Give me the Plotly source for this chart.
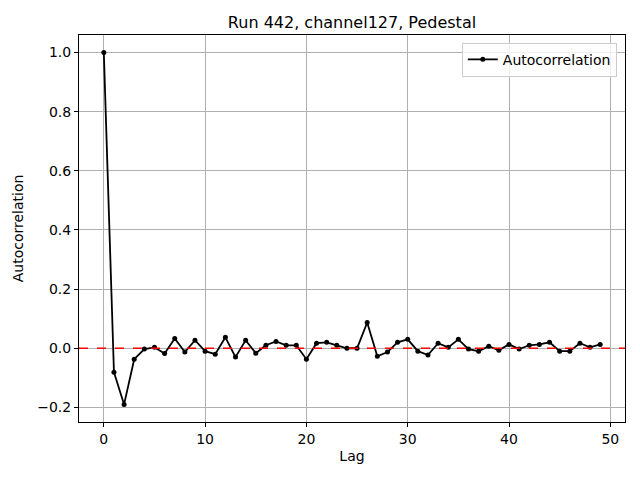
import plotly.graph_objects as go

lags = list(range(50))
autocorr = [1.0, -0.081, -0.19, -0.037, -0.003, 0.003, -0.018, 0.033, -0.013, 0.027,
            -0.01, -0.02, 0.037, -0.03, 0.027, -0.017, 0.01, 0.023, 0.01, 0.01,
            -0.037, 0.017, 0.02, 0.01, 0.0, 0.0, 0.087, -0.027, -0.013, 0.02,
            0.03, -0.01, -0.023, 0.017, 0.003, 0.03, -0.003, -0.01, 0.007, -0.007,
            0.013, -0.003, 0.01, 0.013, 0.02, -0.01, -0.01, 0.017, 0.003, 0.013]
x_ticks = [0, 10, 20, 30, 40, 50]
y_ticks = [-0.2, 0.0, 0.2, 0.4, 0.6, 0.8, 1.0]

fig = go.Figure()
fig.add_trace(go.Scatter(x=lags, y=autocorr, mode="lines+markers", name="Autocorrelation",
                         line=dict(color="black", width=1.8),
                         marker=dict(color="black", size=5)))
fig.add_hline(y=0, line=dict(color="red", width=1.6, dash="dash"))

font = "DejaVu Sans, sans-serif"
axis_common = dict(showgrid=True, gridcolor="#b0b0b0", gridwidth=1, showline=True,
                   linecolor="black", linewidth=1, mirror=True, ticks="outside",
                   ticklen=4, tickcolor="black", zeroline=False, automargin=False,
                   tickfont=dict(family=font, size=14, color="black"))
fig.update_xaxes(range=[-2.45, 51.45], tickvals=x_ticks,
                 title=dict(text="Lag", font=dict(family=font, size=14, color="black"), standoff=5),
                 **axis_common)
fig.update_yaxes(range=[-0.2495, 1.0595], tickvals=y_ticks, tickformat=".1f",
                 title=dict(text="Autocorrelation", font=dict(family=font, size=14, color="black"), standoff=10),
                 **axis_common)
fig.update_layout(
    width=640, height=480,
    margin=dict(l=79, r=15, t=35, b=58),
    paper_bgcolor="white", plot_bgcolor="white",
    title=dict(text="Run 442, channel127, Pedestal", xref="paper", x=0.5, xanchor="center",
               y=1 - 22 / 480, yanchor="middle",
               font=dict(family=font, size=16, color="black")),
    font=dict(family=font, size=14, color="black"),
    showlegend=True,
    legend=dict(x=0.985, y=0.98, xanchor="right", yanchor="top",
                bgcolor="rgba(255,255,255,0.8)", bordercolor="#cccccc", borderwidth=1,
                font=dict(family=font, size=14, color="black")),
)
fig.write_html("out.html", config={"displayModeBar": False},
               post_script="document.body.style.margin='0';")
